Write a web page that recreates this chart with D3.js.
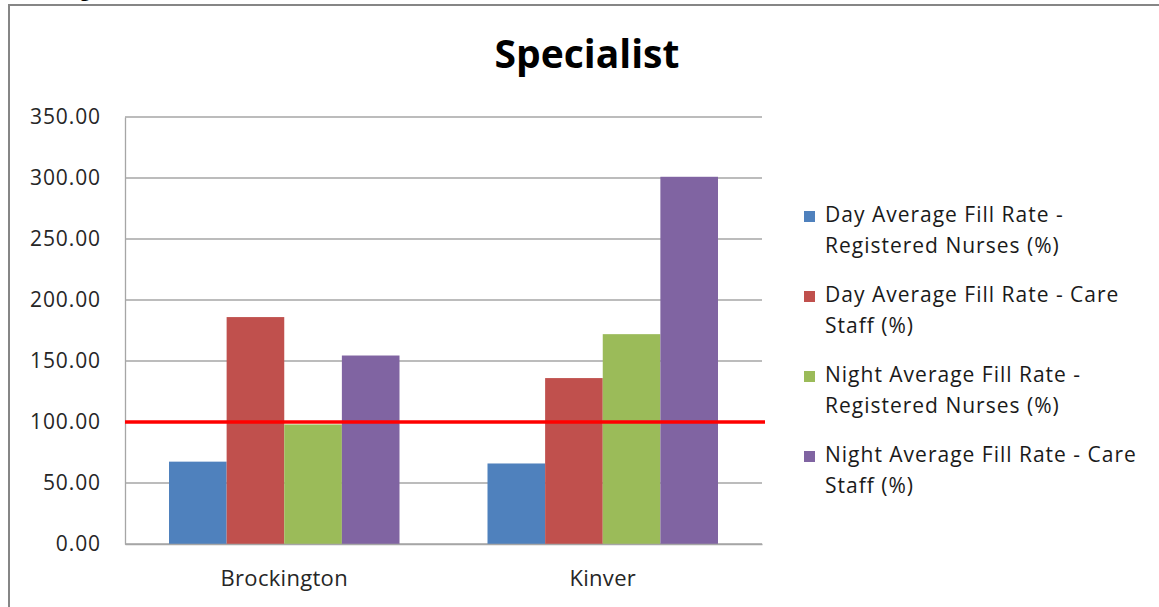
<!DOCTYPE html>
<html lang="en">
<head>
    <meta charset="UTF-8">
    <title>Specialist</title>
    <script src="https://d3js.org/d3.v7.min.js"></script>
    <style>
        body { margin: 0; background: #fff; }
        text { font-family: "Open Sans", "Liberation Sans", sans-serif; }
    </style>
</head>
<body>
<div id="my_graph"></div>
<script>
    // chart data
    var categories = ["Brockington", "Kinver"];
    var seriesNames = [
        ["Day Average Fill Rate -", "Registered Nurses (%)"],
        ["Day Average Fill Rate - Care", "Staff (%)"],
        ["Night Average Fill Rate -", "Registered Nurses (%)"],
        ["Night Average Fill Rate - Care", "Staff (%)"]
    ];
    var dayRN = [67.5, 66.0];
    var dayCare = [186.0, 136.0];
    var nightRN = [98.0, 172.0];
    var nightCare = [154.5, 301.0];
    var yTicks = [0, 50, 100, 150, 200, 250, 300, 350];
    var targetLine = 100;

    var colors = ["#4f81bd", "#c0504d", "#9bbb59", "#8064a2"];
    var series = [dayRN, dayCare, nightRN, nightCare];

    var width = 1159, height = 607;
    var plot = {left: 125, right: 762, top: 117, bottom: 544};

    var svg = d3.select("#my_graph")
        .append("svg")
        .attr("width", width)
        .attr("height", height);

    // outer chart border
    svg.append("rect")
        .attr("x", 9).attr("y", 5)
        .attr("width", 1300).attr("height", 800)
        .attr("fill", "none")
        .attr("stroke", "#868686")
        .attr("stroke-width", 2);

    // cut-off heading above chart (only the descender shows)
    svg.append("text")
        .attr("x", 78).attr("y", -4)
        .style("font-family", "Liberation Sans, sans-serif")
        .style("font-weight", "bold")
        .style("font-size", "24px")
        .text("g");

    var y = d3.scaleLinear().domain([0, 350]).range([plot.bottom, plot.top]);
    var x0 = d3.scaleBand().domain(categories).range([plot.left, plot.right]);
    var groupPad = 44;
    var x1 = d3.scaleBand().domain(d3.range(4))
        .range([groupPad, x0.bandwidth() - groupPad]);

    // gridlines
    svg.append("g")
        .selectAll("line")
        .data(yTicks)
        .enter()
        .append("line")
        .attr("x1", plot.left).attr("x2", plot.right)
        .attr("y1", function(d) { return y(d); })
        .attr("y2", function(d) { return y(d); })
        .attr("stroke", "#a6a6a6")
        .attr("stroke-width", 1.3);

    // y axis
    var yAxis = d3.axisLeft(y).tickValues(yTicks).tickSize(0).tickPadding(24)
        .tickFormat(d3.format(".2f"));
    var yg = svg.append("g").attr("transform", "translate(" + plot.left + ",0)").call(yAxis);
    yg.select(".domain").attr("stroke", "#a6a6a6").attr("stroke-width", 1.3);
    yg.selectAll("text").style("font-size", "21px").attr("fill", "#262626")
        .style("letter-spacing", "0.9px")
        .style("font-family", "Open Sans, sans-serif");

    // bars
    var groups = svg.append("g")
        .selectAll("g")
        .data(categories)
        .enter()
        .append("g")
        .attr("transform", function(d) { return "translate(" + x0(d) + ",0)"; });

    groups.selectAll("rect")
        .data(function(d, i) {
            return series.map(function(s, k) { return {k: k, v: s[i]}; });
        })
        .enter()
        .append("rect")
        .attr("x", function(d) { return x1(d.k); })
        .attr("width", x1.bandwidth())
        .attr("y", function(d) { return y(d.v); })
        .attr("height", function(d) { return y(0) - y(d.v); })
        .attr("fill", function(d) { return colors[d.k]; });

    // x axis
    var xAxis = d3.axisBottom(x0).tickSize(0).tickPadding(26);
    var xg = svg.append("g").attr("transform", "translate(0," + plot.bottom + ")").call(xAxis);
    xg.select(".domain").attr("stroke", "#a6a6a6").attr("stroke-width", 1.3);
    xg.selectAll("text").style("font-size", "22px").attr("fill", "#262626")
        .style("letter-spacing", "0.3px")
        .style("font-family", "Open Sans, sans-serif");

    // target line at 100
    svg.append("line")
        .attr("x1", plot.left).attr("x2", plot.right + 3)
        .attr("y1", y(targetLine)).attr("y2", y(targetLine))
        .attr("stroke", "#ff0000")
        .attr("stroke-width", 3.5);

    // title
    svg.append("text")
        .attr("x", 587).attr("y", 68)
        .attr("text-anchor", "middle")
        .style("font-size", "39px")
        .style("font-weight", "bold")
        .attr("fill", "#000")
        .text("Specialist");

    // legend
    var legend = svg.append("g")
        .selectAll("g")
        .data(seriesNames)
        .enter()
        .append("g")
        .attr("transform", function(d, i) { return "translate(804," + (222 + i * 80) + ")"; });

    legend.append("rect")
        .attr("x", 0).attr("y", -11)
        .attr("width", 11).attr("height", 11)
        .attr("fill", function(d, i) { return colors[i]; });

    legend.append("text")
        .style("font-size", "21px")
        .style("letter-spacing", "1px")
        .attr("fill", "#1a1a1a")
        .selectAll("tspan")
        .data(function(d) { return d; })
        .enter()
        .append("tspan")
        .attr("x", 21)
        .attr("dy", function(d, i) { return i === 0 ? 0 : 31; })
        .text(function(d) { return d; });
</script>
</body>
</html>
